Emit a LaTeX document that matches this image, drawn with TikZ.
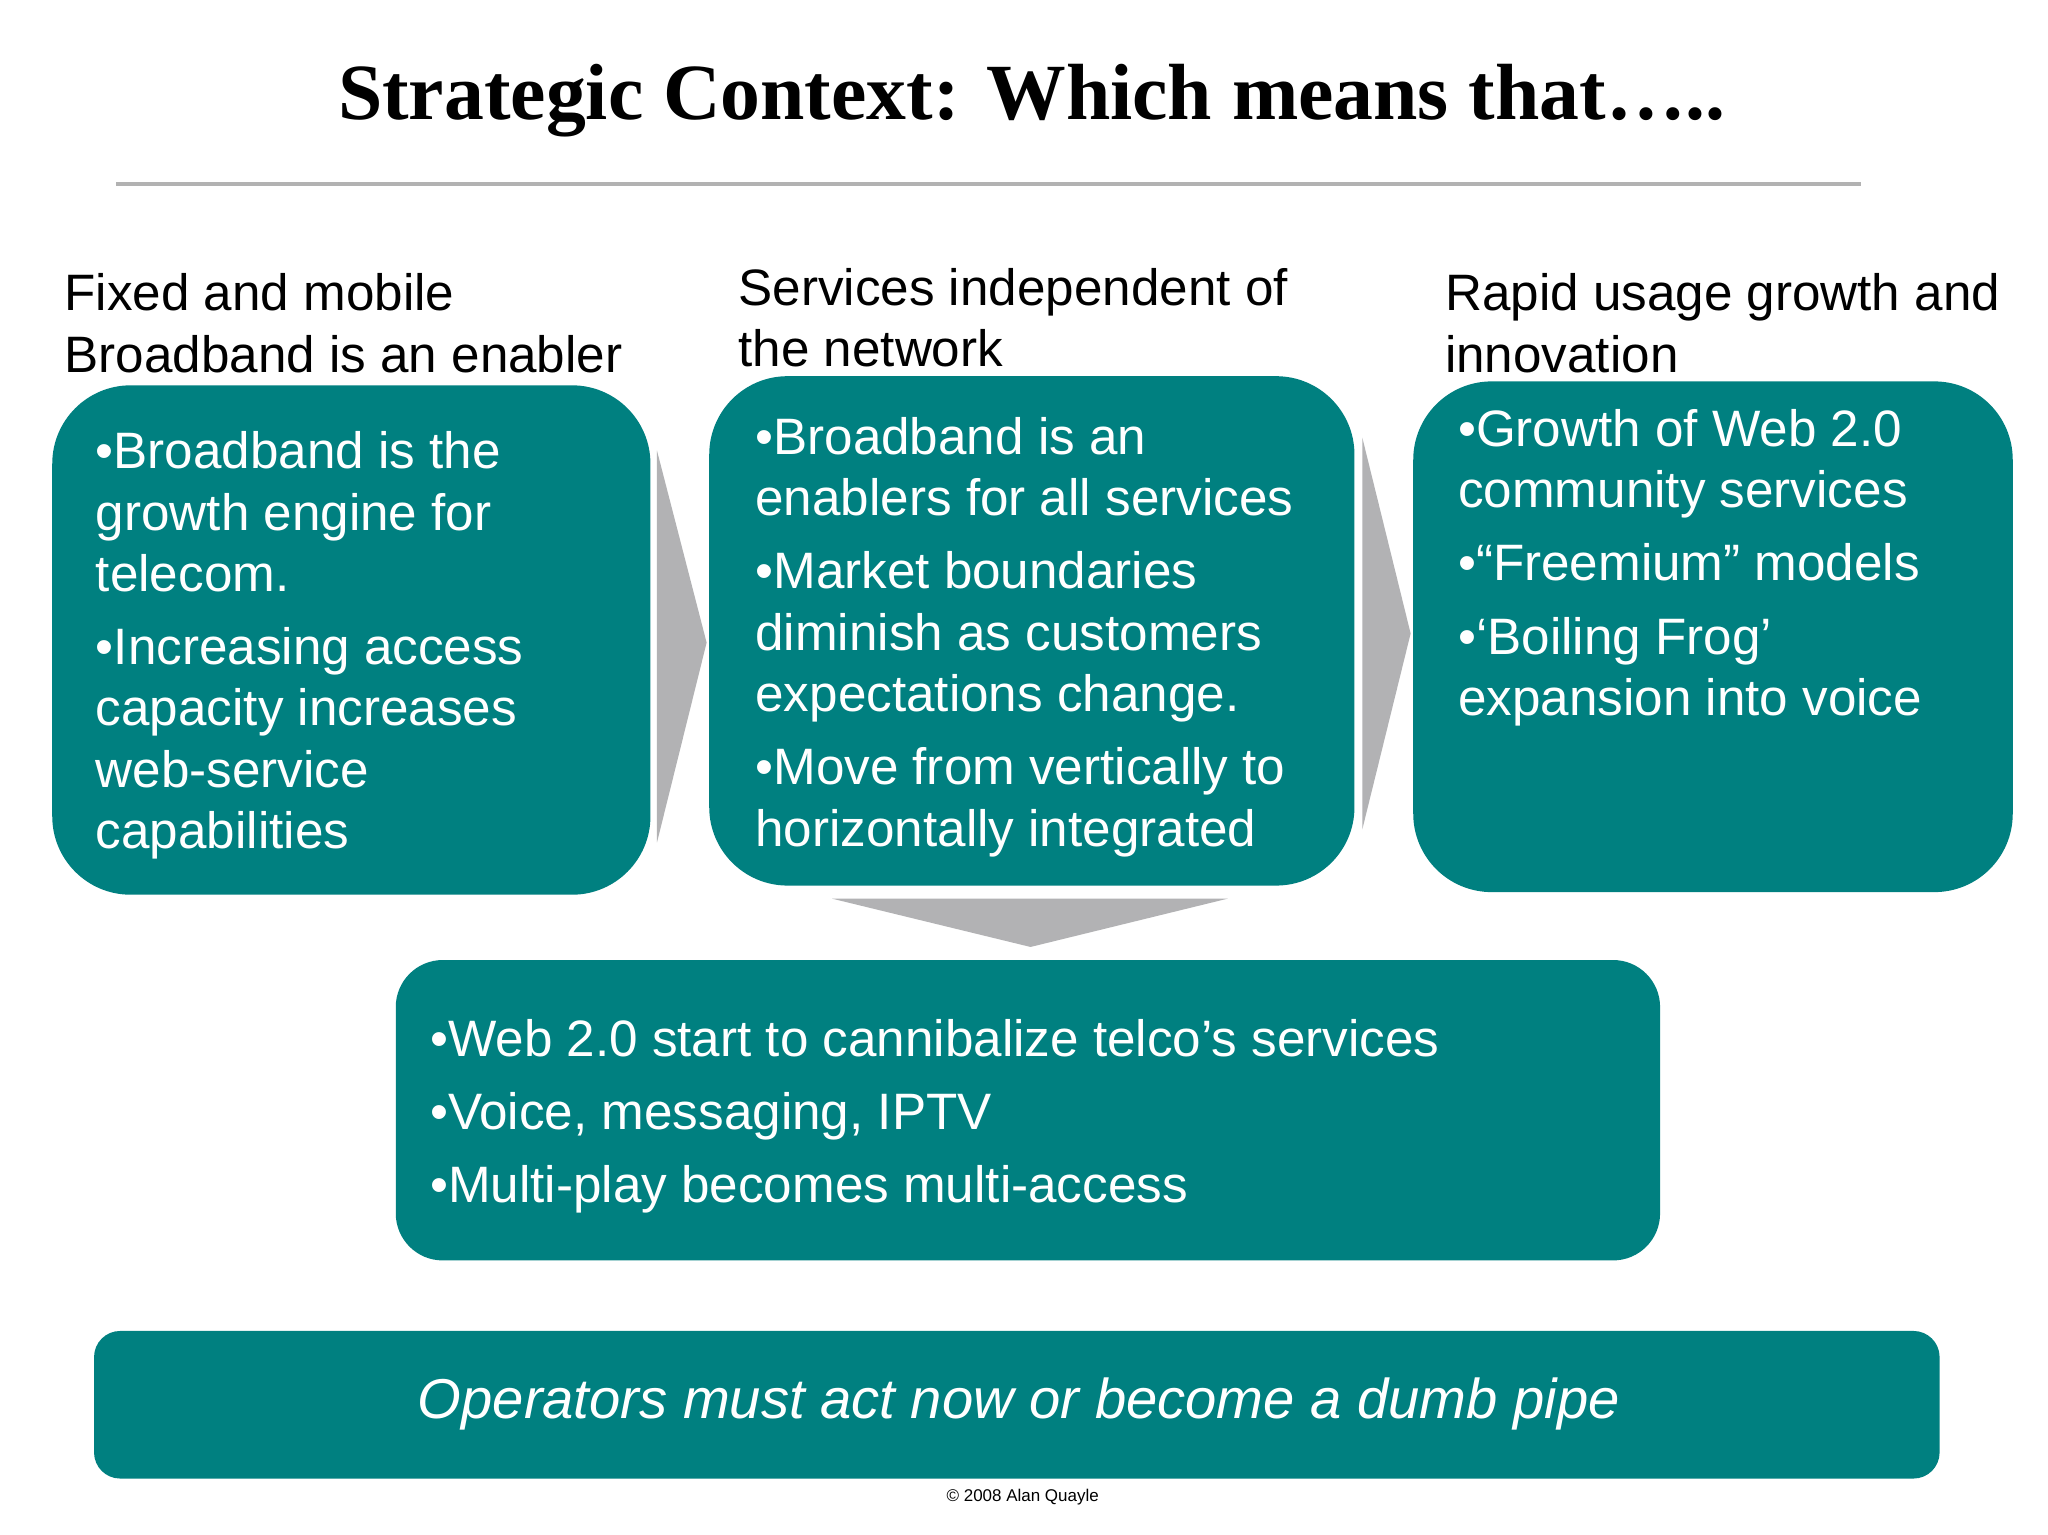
\documentclass[tikz,border=0pt]{standalone}
\usepackage{fontspec}
\setmainfont{Liberation Sans}
\newfontfamily\titlefont{Liberation Serif}
\definecolor{teal1}{RGB}{0,128,128}
\definecolor{arrowgray}{RGB}{178,178,180}
\begin{document}
\begin{tikzpicture}[x=0.5pt,y=-0.5pt,
  box/.style={fill=teal1,draw=none,rounded corners=30pt},
  txt/.style={anchor=north west,align=left,text=white,inner sep=0pt,font=\fontsize{19.6}{23.5}\selectfont},
  head/.style={anchor=north west,align=left,inner sep=0pt,font=\fontsize{19.6}{23.5}\selectfont},
  chev/.style={fill=arrowgray,draw=none}]
\useasboundingbox (0,0) rectangle (1568,1175);
\fill[white] (0,0) rectangle (1568,1175);
\node[font=\titlefont\bfseries\fontsize{30.5}{36}\selectfont] (title) at (790,77) {Strategic Context: Which means that…..};
\draw[line width=1.5pt,gray!60] (89,141) -- (1425,141);
% chevrons
\fill[chev] (503,345) -- (541,492) -- (503,645) -- cycle;
\fill[chev] (1043,335) -- (1080,485) -- (1043,635) -- cycle;
\fill[chev] (637,688) -- (940,688) -- (789,725) -- cycle;
% boxes
\fill[box] (40,295) rectangle (498,685);
\fill[box] (543,288) rectangle (1037,678);
\fill[box] (1082,292) rectangle (1541,683);
\fill[box,rounded corners=18pt] (303,735) rectangle (1271,965);
\fill[box,rounded corners=10pt] (72,1019) rectangle (1485,1132);
% headings
\node[head] (h1) at (49,209) {Fixed and mobile\\Broadband is an enabler};
\node[head] (h2) at (565,205) {Services independent of\\the network};
\node[head] (h3) at (1106,209) {Rapid usage growth and\\innovation};
% texts
\node[txt] (t1) at (73,330) {•Broadband is the\\growth engine for\\telecom.\\[4.5pt]•Increasing access\\capacity increases\\web-service\\capabilities};
\node[txt] (t2) at (578,319) {•Broadband is an\\enablers for all services\\[4.5pt]•Market boundaries\\diminish as customers\\expectations change.\\[4.5pt]•Move from vertically to\\horizontally integrated};
\node[txt] (t3) at (1116,313) {•Growth of Web 2.0\\community services\\[4.5pt]•“Freemium” models\\[4.5pt]•‘Boiling Frog’\\expansion into voice};
\node[txt] (t4) at (329,780) {•Web 2.0 start to cannibalize telco’s services\\[4.5pt]•Voice, messaging, IPTV\\[4.5pt]•Multi-play becomes multi-access};
\node[text=white,font=\itshape\fontsize{21.5}{25}\selectfont] (t5) at (780,1075) {Operators must act now or become a dumb pipe};
\node[font=\fontsize{6.5}{8}\selectfont] (foot) at (783,1146) {© 2008 Alan Quayle};
\end{tikzpicture}
\end{document}
